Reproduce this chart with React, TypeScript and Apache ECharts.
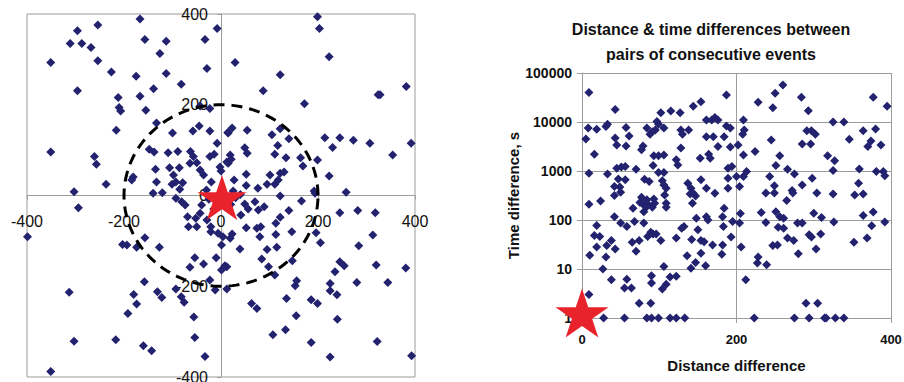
import React, { useEffect, useRef } from 'react';
import * as echarts from 'echarts';

const FONT = '"Liberation Sans", Arial, Helvetica, sans-serif';

// ---------- Left chart: position of each event relative to the previous one ----------
const leftUpperWest = [
  [-167, 389], [-254, 376], [-296, 363], [-8, 368], [-311, 335], [-287, 335], [-268, 326], [-157, 344],
  [-113, 340], [-33, 344], [-126, 313], [-351, 293], [-254, 297], [-29, 280], [-226, 272], [-175, 263],
  [-113, 269], [-82, 245], [-296, 231], [-139, 235], [-212, 216], [-167, 219], [-210, 194], [-207, 186],
  [-155, 188], [-23, 192], [-43, 197], [-133, 160], [-216, 144], [-100, 138], [-58, 142], [-45, 153],
  [-23, 142], [14, 139], [-8, 115], [-351, 96], [-261, 86], [-257, 69], [-148, 102], [-138, 96],
  [-109, 94], [-89, 97], [-63, 97], [-57, 86], [-23, 86], [-14, 91], [-135, 58], [-106, 61],
  [-86, 61], [-64, 71], [-50, 72], [-43, 56], [-36, 45], [-98, 45], [-93, 30], [-101, 25],
  [-79, 28], [-133, 30], [-181, 41], [-184, 34], [-237, 25], [-303, 8], [-140, 5], [-121, 6],
  [-85, 14], [-2, 63], [12, 74], [-20, 30], [-30, 12]
];
const leftUpperEast = [
  [199, 394], [203, 368], [29, 293], [223, 306], [122, 266], [87, 231], [172, 202], [324, 222],
  [328, 222], [382, 240], [392, 115], [354, 89], [307, 115], [273, 122], [245, 127], [214, 127],
  [230, 106], [223, 43], [258, 7], [192, 10], [199, 78], [164, 83], [169, 65], [140, 125],
  [122, 147], [105, 134], [117, 110], [111, 91], [134, 83], [54, 144], [23, 149], [15, 138],
  [49, 105], [54, 93], [19, 89], [21, 80], [15, 71], [52, 47], [101, 45], [122, 49],
  [130, 52], [118, 34], [95, 25], [111, 25], [76, 16], [52, 22], [27, 34], [0, 54],
  [122, -1], [194, 5], [25, 10], [40, 2]
];
const leftLowerWest = [
  [-399, -91], [-294, -27], [-93, -6], [-81, -14], [-74, -21], [-69, -47], [-67, -69], [-50, -69],
  [-52, -50], [-43, -39], [-40, -21], [-29, -54], [-21, -69], [-21, -80], [-6, -83], [4, -91],
  [1, -109], [-157, -93], [-203, -108], [-194, -109], [-174, -114], [-127, -114], [-54, -137], [-36, -151],
  [-64, -158], [-10, -137], [1, -164], [12, -157], [-158, -190], [-23, -186], [-12, -208], [12, -206],
  [-93, -206], [-82, -223], [-76, -235], [-131, -212], [-122, -225], [-180, -218], [-174, -239], [-192, -260],
  [-313, -213], [-56, -268], [-54, -313], [-33, -355], [-303, -321], [-217, -318], [-160, -331], [-143, -342],
  [-351, -388], [-15, -30], [-25, -8]
];
const leftLowerEast = [
  [166, -12], [245, -38], [282, -33], [318, -38], [313, -87], [284, -111], [196, -82], [205, -104],
  [146, -80], [113, -61], [122, -48], [140, -33], [89, -25], [77, -32], [56, -30], [49, -19],
  [70, -14], [41, -43], [52, -71], [74, -72], [82, -69], [80, -91], [113, -86], [23, -85],
  [19, -94], [39, -118], [115, -114], [95, -119], [84, -140], [98, -157], [111, -175], [147, -144],
  [156, -188], [153, -199], [8, -155], [63, -238], [74, -249], [135, -227], [186, -230], [199, -238],
  [155, -265], [133, -296], [107, -307], [186, -324], [225, -356], [240, -273], [225, -194], [225, -210],
  [239, -219], [235, -168], [245, -146], [254, -155], [280, -192], [320, -153], [344, -192], [381, -160],
  [322, -322], [393, -353], [20, -20], [30, -5]
];
const leftOrigin = [[0, 0]];
const circleRadius = [200];
const leftTicks = [-400, -200, 0, 200, 400];

// ---------- Right chart: distance vs time difference ----------
const titleLines = ['Distance & time differences between', 'pairs of consecutive events'];
const pairsNear = [
  [9, 40000], [8, 7500], [19, 7100], [5, 4500], [16, 2200], [9, 900], [9, 210], [24, 245],
  [19, 77], [31, 8100], [33, 9000], [33, 870], [43, 18000], [43, 4700], [45, 3400], [45, 1140],
  [51, 1200], [56, 1230], [47, 690], [56, 660], [42, 480], [49, 470], [50, 370], [42, 316],
  [42, 117], [50, 87], [58, 74], [57, 7700], [57, 3250], [61, 5200], [70, 1090], [66, 174],
  [68, 93], [80, 87], [79, 3250], [77, 2700], [84, 7500], [88, 5600], [91, 6300], [95, 6900],
  [97, 10200], [99, 9000], [102, 15500], [115, 16800], [106, 7500], [93, 2040], [99, 2040], [106, 2130],
  [92, 1290], [99, 930], [106, 930], [81, 680], [87, 610], [104, 630], [106, 520], [109, 445],
  [107, 325], [77, 290], [84, 258], [75, 228], [79, 210], [86, 204], [93, 268], [94, 220],
  [91, 182], [83, 182], [109, 220], [109, 182], [80, 148]
];
const pairsNearLow = [
  [16, 48], [23, 46], [19, 28], [10, 19], [31, 17.5], [32, 30], [38, 38], [43, 25.6],
  [27, 10], [38, 6], [9, 3], [28, 1], [55, 1], [84, 1], [90, 1], [99, 1],
  [114, 1], [122, 1], [133, 1], [58, 6.2], [55, 4.1], [64, 4.1], [74, 2], [89, 2],
  [90, 7.3], [90, 5.2], [104, 3.9], [109, 4.9], [106, 11.3], [114, 6.9], [122, 7.1], [65, 35],
  [74, 38], [70, 23], [85, 46], [89, 56], [92, 52], [96, 52], [102, 38], [122, 43],
  [129, 68], [132, 74], [136, 18.6], [141, 10.4], [147, 13.6], [142, 40], [150, 63], [154, 38],
  [154, 21], [158, 36], [160, 11.6], [169, 31]
];
const pairsMid = [
  [127, 15500], [128, 6900], [130, 5600], [128, 2930], [122, 1700], [124, 1330], [138, 6900], [144, 21000],
  [154, 26000], [161, 11000], [168, 11000], [172, 12300], [176, 11000], [161, 5000], [170, 5000], [164, 2200],
  [166, 1820], [153, 1820], [154, 660], [137, 560], [141, 445], [140, 340], [144, 350], [147, 310],
  [143, 220], [161, 445], [172, 350], [161, 117], [163, 100], [148, 109], [176, 3150], [187, 35500],
  [187, 8300], [192, 7500], [184, 5000], [192, 3080], [202, 3400], [209, 11000], [210, 6900], [208, 5600],
  [224, 2500], [209, 2130], [245, 4300], [228, 25300], [247, 19500], [250, 38600], [182, 117], [184, 174],
  [189, 445], [189, 710], [189, 1140], [194, 1230], [200, 770], [204, 480], [209, 770], [213, 975],
  [205, 135], [204, 87], [195, 93], [183, 74]
];
const pairsFar = [
  [260, 57000], [284, 32000], [293, 17000], [256, 2040], [251, 1290], [266, 1090], [275, 870], [243, 770],
  [249, 500], [238, 355], [249, 355], [265, 250], [272, 400], [273, 355], [285, 520], [298, 710],
  [304, 355], [325, 340], [353, 325], [364, 340], [358, 560], [359, 1100], [325, 1020], [327, 1620],
  [318, 2040], [381, 975], [390, 975], [392, 800], [285, 3560], [296, 3560], [291, 6600], [297, 6600],
  [302, 5600], [325, 10000], [339, 10000], [346, 4450], [364, 6600], [380, 7200], [374, 4100], [370, 3150],
  [387, 3400], [377, 32000], [395, 21000], [232, 142], [251, 148], [256, 117], [261, 109], [279, 87],
  [285, 87], [300, 138], [310, 112], [326, 91], [364, 123], [377, 145], [392, 91], [375, 76],
  [238, 89], [254, 71]
];
const pairsFarLow = [
  [182, 31], [181, 20], [193, 45], [206, 28], [212, 6], [228, 17.5], [227, 13.2], [239, 12.2],
  [247, 30], [253, 31], [261, 68], [266, 43], [274, 38], [280, 20.5], [294, 50], [297, 45],
  [303, 25.6], [309, 52], [352, 35], [369, 43], [290, 2], [305, 2], [223, 1], [275, 1],
  [294, 1], [314, 1], [316, 1], [328, 1], [339, 1]
];
const rightOrigin = [[0, 1]];
const distTicks = [0, 200, 400];
const timeTicks = [1, 10, 100, 1000, 10000, 100000];

const STAR =
  'path://M50 0 L61.2 34.5 L97.6 34.5 L68.2 55.9 L79.4 90.5 L50 69.1 L20.6 90.5 L31.8 55.9 L2.4 34.5 L38.8 34.5 Z';
const DOT = '#22226f';
const RED = '#e8232b';
const GRAY = '#9c9c9c';

// left plot area size (pixels), used to move the axes to the centre cross
const LEFT_W = 388;
const LEFT_H = 363;

function buildOption() {
  const leftPoints = [...leftUpperWest, ...leftUpperEast, ...leftLowerWest, ...leftLowerEast];
  const rightPoints = [...pairsNear, ...pairsNearLow, ...pairsMid, ...pairsFar, ...pairsFarLow];
  return {
    animation: false,
    backgroundColor: '#ffffff',
    textStyle: { fontFamily: FONT },
    title: {
      text: titleLines.join('\n'),
      left: 711,
      top: 17,
      padding: 0,
      textAlign: 'center',
      textStyle: { fontFamily: FONT, fontSize: 16, fontWeight: 'bold', color: '#111', lineHeight: 25 }
    },
    grid: [
      {
        left: 27, top: 14, width: LEFT_W, height: LEFT_H, show: true, borderColor: GRAY, borderWidth: 1,
        backgroundColor: 'transparent', containLabel: false, outerBoundsMode: 'none'
      },
      { left: 582, top: 73, width: 309, height: 245, containLabel: false, outerBoundsMode: 'none' }
    ],
    xAxis: [
      {
        type: 'value', gridIndex: 0, position: 'bottom', offset: -LEFT_H / 2,
        min: leftTicks[0], max: leftTicks[leftTicks.length - 1], interval: leftTicks[1] - leftTicks[0],
        axisLine: { show: true, onZero: false, lineStyle: { color: GRAY, width: 1 } },
        axisTick: { show: true, length: 4, lineStyle: { color: GRAY } },
        axisLabel: { fontSize: 16, color: '#111', margin: 18, fontFamily: FONT, hideOverlap: false },
        splitLine: { show: false }
      },
      {
        type: 'value', gridIndex: 1,
        min: distTicks[0], max: distTicks[distTicks.length - 1], interval: distTicks[1] - distTicks[0],
        axisLine: { show: true, onZero: false, lineStyle: { color: GRAY, width: 1 } },
        axisTick: { show: true, length: 5, lineStyle: { color: GRAY } },
        axisLabel: { fontSize: 13, fontWeight: 'bold', color: '#111', margin: 15, fontFamily: FONT },
        splitLine: { show: true, lineStyle: { color: GRAY, width: 1 } },
        name: 'Distance difference', nameLocation: 'middle', nameGap: 40,
        nameTextStyle: { fontSize: 15, fontWeight: 'bold', color: '#111', fontFamily: FONT }
      }
    ],
    yAxis: [
      {
        type: 'value', gridIndex: 0, position: 'left', offset: -LEFT_W / 2,
        min: leftTicks[0], max: leftTicks[leftTicks.length - 1], interval: leftTicks[1] - leftTicks[0],
        axisLine: { show: true, onZero: false, lineStyle: { color: GRAY, width: 1 } },
        axisTick: { show: true, length: 4, lineStyle: { color: GRAY } },
        axisLabel: { fontSize: 16, color: '#111', margin: 13, fontFamily: FONT, hideOverlap: false },
        splitLine: { show: false }
      },
      {
        type: 'log', logBase: 10, gridIndex: 1,
        min: timeTicks[0], max: timeTicks[timeTicks.length - 1],
        axisLine: { show: true, onZero: false, lineStyle: { color: GRAY, width: 1 } },
        axisTick: { show: true, length: 5, lineStyle: { color: GRAY } },
        axisLabel: {
          fontSize: 14, fontWeight: 'bold', color: '#111', margin: 10, fontFamily: FONT,
          formatter: (v: number) => String(Math.round(v))
        },
        splitLine: { show: true, lineStyle: { color: GRAY, width: 1 } },
        minorTick: { show: false },
        name: 'Time difference, s', nameLocation: 'middle', nameGap: 41,
        nameTextStyle: { fontSize: 15, fontWeight: 'bold', color: '#111', fontFamily: FONT }
      }
    ],
    series: [
      {
        type: 'scatter', xAxisIndex: 0, yAxisIndex: 0, data: leftPoints,
        symbol: 'diamond', symbolSize: 9, itemStyle: { color: DOT, opacity: 1 }, z: 2, silent: true
      },
      {
        type: 'custom', xAxisIndex: 0, yAxisIndex: 0, data: [[0, 0, circleRadius[0]]],
        encode: { x: 0, y: 1 }, z: 3, silent: true,
        renderItem: (params: any, api: any) => {
          const cx = api.value(0);
          const cy = api.value(1);
          const r = api.value(2);
          const pts: number[][] = [];
          const n = 160;
          for (let i = 0; i <= n; i++) {
            const a = (i / n) * Math.PI * 2;
            pts.push(api.coord([cx + r * Math.cos(a), cy + r * Math.sin(a)]));
          }
          return {
            type: 'polyline',
            shape: { points: pts },
            style: { stroke: '#000', lineWidth: 3, lineDash: [11, 7], fill: null }
          };
        }
      },
      {
        type: 'scatter', xAxisIndex: 0, yAxisIndex: 0, data: leftOrigin,
        symbol: STAR, symbolSize: [49, 45], symbolOffset: [1, 2], itemStyle: { color: RED, opacity: 1 }, z: 5, silent: true
      },
      {
        type: 'scatter', xAxisIndex: 1, yAxisIndex: 1, data: rightPoints,
        symbol: 'diamond', symbolSize: 9, itemStyle: { color: DOT, opacity: 1 }, z: 2, silent: true
      },
      {
        type: 'scatter', xAxisIndex: 1, yAxisIndex: 1, data: rightOrigin,
        symbol: STAR, symbolSize: [53, 49], symbolOffset: [0, -5], itemStyle: { color: RED, opacity: 1 }, z: 5, silent: true
      }
    ]
  };
}

export default function App() {
  const ref = useRef<HTMLDivElement>(null);
  useEffect(() => {
    document.body.style.margin = '0';
    const chart = echarts.init(ref.current as HTMLDivElement, null, { renderer: 'svg' });
    chart.setOption(buildOption() as any);
    return () => chart.dispose();
  }, []);
  return <div ref={ref} style={{ width: 904, height: 382 }} />;
}
